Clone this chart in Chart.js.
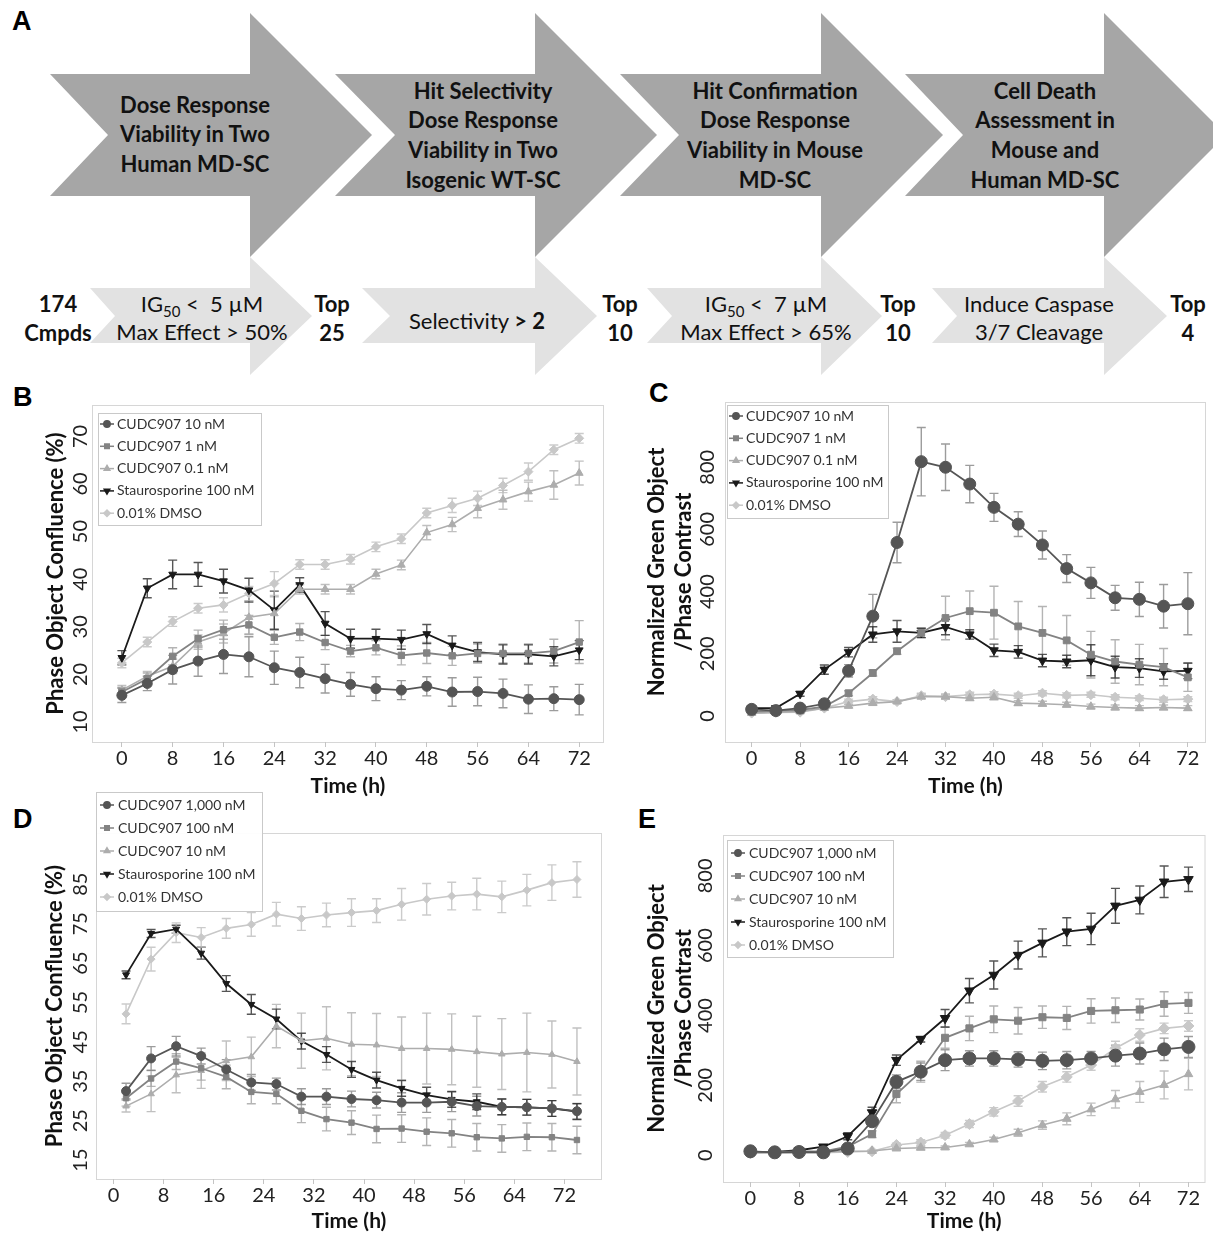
<!DOCTYPE html>
<html>
<head>
<meta charset="utf-8">
<script src="https://cdn.jsdelivr.net/npm/chart.js@4.4.0/dist/chart.umd.min.js"></script>
<style>
  body { margin: 0; background: #fff; }
  #page { position: relative; width: 1213px; height: 1238px; overflow: hidden; background: #fff; }
  .tag { position: absolute; font: bold 27px "Liberation Sans", Arial, sans-serif; line-height: 1; color: #000; }
  canvas { position: absolute; }
  svg text { font-family: Lato, sans-serif; fill: #111; white-space: pre; }
</style>
</head>
<body>
<div id="page">
  <svg width="1213" height="380" style="position:absolute;left:0;top:0">
    <g fill="#a6a6a6">
      <polygon points="50,74 250,74 250,13 372,135 250,257 250,196 50,196 108,135"/>
      <polygon points="335,74 535,74 535,13 657,135 535,257 535,196 335,196 395,135"/>
      <polygon points="620,74 821,74 821,13 943,135 821,257 821,196 620,196 679,135"/>
      <polygon points="905,74 1104,74 1104,13 1226,135 1104,257 1104,196 905,196 963,135"/>
    </g>
    <g fill="#e2e2e2">
      <polygon points="90,288 250,288 250,257 312,316 250,375 250,343 90,343 115,316"/>
      <polygon points="362,288 535,288 535,257 597,316 535,375 535,343 362,343 390,316"/>
      <polygon points="647,288 821,288 821,257 882,316 821,375 821,343 647,343 672,316"/>
      <polygon points="932,288 1104,288 1104,257 1167,316 1104,375 1104,343 932,343 957,316"/>
    </g>
    <g font-weight="bold" font-size="22" text-anchor="middle">
      <text x="195" y="113">Dose Response</text>
      <text x="195" y="142">Viability in Two</text>
      <text x="195" y="172">Human MD-SC</text>
      <text x="483" y="99">Hit Selectivity</text>
      <text x="483" y="128">Dose Response</text>
      <text x="483" y="158">Viability in Two</text>
      <text x="483" y="188">Isogenic WT-SC</text>
      <text x="775" y="99">Hit Confirmation</text>
      <text x="775" y="128">Dose Response</text>
      <text x="775" y="158">Viability in Mouse</text>
      <text x="775" y="188">MD-SC</text>
      <text x="1045" y="99">Cell Death</text>
      <text x="1045" y="128">Assessment in</text>
      <text x="1045" y="158">Mouse and</text>
      <text x="1045" y="188">Human MD-SC</text>
    </g>
    <g font-size="22" text-anchor="middle">
      <text x="202" y="312">IG<tspan font-size="15" dy="5">50</tspan><tspan dy="-5"> &lt;  5 µM</tspan></text>
      <text x="202" y="340">Max Effect &gt; 50%</text>
      <text x="477" y="329">Selectivity <tspan font-weight="bold">&gt; 2</tspan></text>
      <text x="766" y="312">IG<tspan font-size="15" dy="5">50</tspan><tspan dy="-5"> &lt;  7 µM</tspan></text>
      <text x="766" y="340">Max Effect &gt; 65%</text>
      <text x="1039" y="312">Induce Caspase</text>
      <text x="1039" y="340">3/7 Cleavage</text>
    </g>
    <g font-size="22" font-weight="bold" text-anchor="middle">
      <text x="58" y="312">174</text>
      <text x="58" y="341">Cmpds</text>
      <text x="332" y="312">Top</text>
      <text x="332" y="341">25</text>
      <text x="620" y="312">Top</text>
      <text x="620" y="341">10</text>
      <text x="898" y="312">Top</text>
      <text x="898" y="341">10</text>
      <text x="1188" y="312">Top</text>
      <text x="1188" y="341">4</text>
    </g>
  </svg>

  <div class="tag" style="left:12px;top:8px">A</div>
  <div class="tag" style="left:13px;top:384px">B</div>
  <div class="tag" style="left:649px;top:380px">C</div>
  <div class="tag" style="left:13px;top:806px">D</div>
  <div class="tag" style="left:638px;top:806px">E</div>

  <canvas id="chartB" width="610" height="415" style="left:0;top:390px"></canvas>
  <canvas id="chartC" width="603" height="415" style="left:610px;top:390px"></canvas>
  <canvas id="chartD" width="610" height="448" style="left:0;top:790px"></canvas>
  <canvas id="chartE" width="603" height="438" style="left:610px;top:800px"></canvas>
</div>

<script>
// time points (h)
const hoursBC = [0, 4, 8, 12, 16, 20, 24, 28, 32, 36, 40, 44, 48, 52, 56, 60, 64, 68, 72];
const hoursD = [2, 6, 10, 14, 18, 22, 26, 30, 34, 38, 42, 46, 50, 54, 58, 62, 66, 70, 74];
const hoursE = [0, 4, 8, 12, 16, 20, 24, 28, 32, 36, 40, 44, 48, 52, 56, 60, 64, 68, 72];
const xTickValues = [0, 8, 16, 24, 32, 40, 48, 56, 64, 72];

const labelsBC = ["CUDC907 10 nM", "CUDC907 1 nM", "CUDC907 0.1 nM", "Staurosporine 100 nM", "0.01% DMSO"];
const labelsDE = ["CUDC907 1,000 nM", "CUDC907 100 nM", "CUDC907 10 nM", "Staurosporine 100 nM", "0.01% DMSO"];

// B - human MD-SC confluence
const bYTicks = [10, 20, 30, 40, 50, 60, 70];
const b10 = [15.6, 18.1, 21.0, 22.8, 24.2, 23.7, 21.4, 20.4, 19.1, 17.9, 17.0, 16.7, 17.5, 16.3, 16.4, 16.0, 14.8, 14.9, 14.7];
const b1 = [16.3, 19.1, 23.8, 27.5, 29.4, 30.4, 27.8, 28.9, 26.7, 24.9, 25.6, 24.0, 24.5, 23.9, 24.4, 24.4, 24.4, 24.9, 26.8];
const b01 = [16.7, 19.6, 21.7, 26.8, 28.6, 32.0, 32.8, 37.9, 37.9, 37.9, 41.1, 43.0, 49.8, 51.5, 54.9, 56.7, 58.4, 59.8, 62.3];
const bStau = [23.5, 38.1, 41.0, 41.0, 39.6, 37.7, 33.5, 38.8, 30.7, 27.5, 27.5, 27.3, 28.5, 26.1, 24.7, 24.2, 24.2, 23.8, 25.1];
const bDmso = [22.4, 26.8, 31.1, 33.9, 34.6, 37.0, 39.1, 43.1, 43.1, 44.2, 46.8, 48.5, 53.9, 55.5, 57.0, 59.7, 62.6, 67.2, 69.6];
const b10Err = [1.5, 1.5, 3, 3.2, 4, 4.2, 3.5, 3.2, 3, 2.5, 2.5, 2, 2, 3, 3, 3, 3, 2.5, 3.2];
const b1Err = [1, 1.2, 1.8, 1.8, 2, 2, 1.5, 1.8, 1.5, 1.2, 1.5, 2, 2.2, 2, 2, 2, 2, 2.5, 4.5];
const b01Err = [1, 1, 1.5, 1.5, 2, 3.5, 3.5, 1, 1, 1, 1, 1, 1.5, 1.5, 2, 2, 2, 3, 2.5];
const bStauErr = [1.5, 2, 3, 2.5, 2.5, 2.5, 4, 1.5, 2.5, 2, 2, 2, 2, 2, 2, 2, 2, 2, 2];
const bDmsoErr = [1, 1, 1, 1, 1.5, 1.5, 2.5, 1, 1, 1, 1, 1, 1, 1.5, 1.5, 1.5, 1.8, 1, 1];

// C - human MD-SC caspase
const cYTicks = [0, 200, 400, 600, 800];
const c10 = [21, 17, 25, 39, 145, 321, 558, 818, 800, 746, 671, 617, 550, 474, 428, 380, 375, 353, 361];
const c1 = [14, 16, 19, 30, 73, 138, 208, 267, 315, 337, 332, 288, 267, 243, 197, 175, 165, 157, 124];
const c01 = [9, 11, 14, 25, 32, 41, 46, 62, 62, 57, 60, 41, 39, 36, 30, 27, 25, 27, 25];
const cStau = [25, 25, 71, 149, 205, 262, 272, 267, 286, 262, 211, 206, 178, 175, 179, 157, 154, 143, 145];
const cDmso = [9, 11, 12, 25, 46, 54, 46, 65, 62, 68, 70, 65, 73, 66, 68, 60, 57, 52, 54];
const c10Err = [5, 5, 5, 8, 20, 70, 65, 110, 75, 60, 45, 40, 45, 45, 50, 40, 55, 70, 100];
const c1Err = [3, 3, 3, 5, 8, 10, 10, 15, 70, 65, 85, 80, 85, 80, 75, 70, 65, 60, 45];
const c01Err = [3, 3, 3, 4, 5, 5, 5, 8, 8, 8, 8, 8, 8, 8, 8, 8, 8, 8, 8];
const cStauErr = [5, 5, 8, 15, 15, 25, 35, 15, 25, 15, 20, 20, 20, 20, 50, 35, 30, 25, 25];
const cDmsoErr = [3, 3, 3, 5, 8, 8, 5, 8, 8, 8, 8, 8, 8, 8, 8, 8, 8, 8, 8];

// D - mouse MD-SC confluence
const dYTicks = [15, 25, 35, 45, 55, 65, 75, 85];
const d1000 = [32.5, 40.8, 43.9, 41.4, 38.0, 34.7, 34.3, 31.1, 31.1, 30.5, 30.2, 29.6, 29.6, 29.8, 28.7, 28.5, 28.4, 28.1, 27.4];
const d100 = [30.7, 35.7, 40.0, 38.3, 36.1, 32.3, 31.8, 27.5, 25.4, 24.5, 22.9, 23.0, 22.2, 21.8, 20.8, 20.5, 20.9, 20.8, 20.1];
const d10 = [28.7, 31.8, 36.6, 37.7, 40.2, 41.2, 49.0, 45.3, 45.9, 44.4, 44.2, 43.3, 43.3, 43.1, 42.5, 41.9, 42.3, 41.8, 40.0];
const dStau = [62.0, 72.5, 73.6, 67.5, 59.8, 54.5, 50.8, 45.2, 41.8, 38.0, 35.3, 33.2, 31.5, 30.4, 29.8, 28.5, 28.4, 28.1, 27.3];
const dDmso = [52.1, 66.0, 72.7, 71.5, 73.8, 74.8, 77.4, 76.3, 77.2, 77.8, 78.3, 79.9, 81.2, 82.0, 82.5, 81.8, 83.5, 85.4, 86.2];
const d1000Err = [2, 3, 2.5, 2, 2.5, 2, 1.5, 2, 2, 2, 2, 2.5, 2.5, 2.5, 2.5, 2, 2, 2, 2];
const d100Err = [2, 2, 2, 3, 3, 3, 2.5, 3, 3, 3, 3.5, 3.5, 3.5, 3.5, 3.5, 3.5, 3.5, 3.5, 3.5];
const d10Err = [1.5, 4.5, 4.5, 4.5, 5, 5, 5.5, 7, 8, 8, 8, 8, 9, 9, 9, 9, 10, 8.5, 8.5];
const dStauErr = [1, 1, 1, 1.5, 2, 2.5, 2.5, 2, 2, 2, 2, 2, 2, 2, 2, 2, 2, 2, 2];
const dDmsoErr = [2.5, 3, 2.5, 2.5, 2.5, 3, 3, 3, 3, 3.5, 3, 4, 4, 3.5, 4, 4, 4, 4.5, 4.5];

// E - mouse MD-SC caspase
const eYTicks = [0, 200, 400, 600, 800];
const e1000 = [11, 8, 9, 8, 19, 97, 210, 239, 272, 277, 277, 274, 270, 272, 277, 285, 291, 303, 310];
const e100 = [9, 9, 11, 11, 24, 60, 175, 239, 336, 363, 389, 385, 395, 393, 413, 415, 417, 433, 436];
const e10 = [7, 7, 9, 9, 11, 12, 19, 21, 22, 31, 45, 64, 86, 104, 131, 160, 181, 201, 232];
const eStau = [9, 9, 14, 24, 54, 122, 272, 332, 392, 471, 516, 573, 608, 640, 648, 714, 731, 783, 790];
const eDmso = [5, 7, 7, 7, 9, 11, 29, 36, 57, 89, 124, 155, 196, 224, 258, 306, 344, 363, 370];
const e1000Err = [3, 3, 3, 3, 5, 12, 20, 25, 30, 22, 22, 22, 25, 25, 20, 30, 30, 32, 30];
const e100Err = [3, 3, 3, 3, 5, 10, 25, 30, 30, 35, 38, 38, 32, 33, 35, 35, 30, 35, 30];
const e10Err = [2, 2, 2, 2, 2, 2, 3, 4, 4, 5, 6, 10, 12, 17, 18, 25, 30, 40, 45];
const eStauErr = [3, 3, 5, 5, 10, 15, 15, 8, 25, 35, 40, 40, 40, 40, 45, 50, 40, 45, 35];
const eDmsoErr = [2, 2, 2, 2, 3, 3, 5, 8, 8, 10, 12, 15, 15, 15, 15, 20, 18, 15, 15];

// one look per series slot (high dose, mid dose, low dose, staurosporine, DMSO)
const LOOK = [
  { color: "#555555", bar: "rgba(90,90,90,0.6)", shape: "circle", rot: 0, width: 1.8 },
  { color: "#838383", bar: "rgba(130,130,130,0.6)", shape: "rect", rot: 0, width: 1.8 },
  { color: "#adadad", bar: "rgba(165,165,165,0.7)", shape: "triangle", rot: 0, width: 1.6 },
  { color: "#1a1a1a", bar: "rgba(30,30,30,0.75)", shape: "triangle", rot: 180, width: 1.8 },
  { color: "#c8c8c8", bar: "rgba(185,185,185,0.75)", shape: "rectRot", rot: 0, width: 1.6 }
];

const errorBars = {
  id: "errorBars",
  beforeDatasetsDraw(chart) {
    const ctx = chart.ctx;
    const yScale = chart.scales.y;
    ctx.save();
    chart.data.datasets.forEach((ds, i) => {
      const meta = chart.getDatasetMeta(i);
      ctx.strokeStyle = ds.barColor;
      ctx.lineWidth = 1.4;
      meta.data.forEach((pt, k) => {
        const v = ds.data[k].y, e = ds.errors[k];
        const top = yScale.getPixelForValue(v + e);
        const bot = yScale.getPixelForValue(v - e);
        ctx.beginPath();
        ctx.moveTo(pt.x, top); ctx.lineTo(pt.x, bot);
        ctx.moveTo(pt.x - 4.5, top); ctx.lineTo(pt.x + 4.5, top);
        ctx.moveTo(pt.x - 4.5, bot); ctx.lineTo(pt.x + 4.5, bot);
        ctx.stroke();
      });
    });
    ctx.restore();
  }
};

const frame = {
  id: "frame",
  beforeDraw(chart) {
    const { ctx, chartArea: a } = chart;
    ctx.save();
    ctx.strokeStyle = "#d6d6d6";
    ctx.lineWidth = 1;
    ctx.strokeRect(a.left + 0.5, a.top + 0.5, a.right - a.left - 1, a.bottom - a.top);
    ctx.restore();
  }
};

const boxLegend = {
  id: "boxLegend",
  afterDraw(chart, args, o) {
    const ctx = chart.ctx;
    ctx.save();
    ctx.fillStyle = "rgba(255,255,255,0.95)";
    ctx.fillRect(o.x, o.y, o.w, o.h);
    ctx.strokeStyle = "#c9c9c9";
    ctx.lineWidth = 1;
    ctx.strokeRect(o.x + 0.5, o.y + 0.5, o.w, o.h);
    ctx.font = "14px Lato";
    ctx.textBaseline = "middle";
    chart.data.datasets.forEach((ds, i) => {
      const cy = o.y + o.first + i * o.rowH;
      const mx = o.x + o.markX;
      ctx.strokeStyle = ds.borderColor;
      ctx.lineWidth = 1.5;
      ctx.beginPath();
      ctx.moveTo(mx - 7, cy); ctx.lineTo(mx + 7, cy);
      ctx.stroke();
      ctx.fillStyle = ds.borderColor;
      Chart.helpers.drawPoint(ctx, { pointStyle: ds.pointStyle, rotation: ds.pointRotation, radius: 3.2, borderWidth: 1 }, mx, cy);
      ctx.fillStyle = "#333";
      ctx.fillText(ds.label, o.x + o.textX, cy);
    });
    ctx.restore();
  }
};

function makeChart(id, spec) {
  const datasets = spec.series.map((values, i) => ({
    label: spec.labels[i],
    data: spec.hours.map((h, k) => ({ x: h, y: values[k] })),
    errors: spec.errors[i],
    barColor: LOOK[i].bar,
    borderColor: LOOK[i].color,
    backgroundColor: LOOK[i].color,
    pointBackgroundColor: LOOK[i].color,
    pointBorderColor: LOOK[i].color,
    pointStyle: LOOK[i].shape,
    pointRotation: LOOK[i].rot,
    pointRadius: spec.sizes[i],
    pointBorderWidth: 1,
    borderWidth: LOOK[i].width,
    tension: 0,
    fill: false
  }));

  return new Chart(document.getElementById(id), {
    type: "line",
    data: { datasets },
    options: {
      responsive: false,
      animation: false,
      devicePixelRatio: 1,
      layout: { padding: spec.pad },
      plugins: {
        legend: { display: false },
        tooltip: { enabled: false },
        boxLegend: spec.legend
      },
      scales: {
        x: {
          type: "linear",
          min: spec.xMin,
          max: spec.xMax,
          afterBuildTicks: s => { s.ticks = xTickValues.map(v => ({ value: v })); },
          afterFit: s => { s.height = spec.xHeight; },
          grid: { display: true, drawOnChartArea: false, drawTicks: true, tickLength: 5, color: "#c4c4c4" },
          border: { display: false },
          ticks: { font: { family: "Lato", size: 20 }, color: "#222", padding: 0, maxRotation: 0 },
          title: { display: true, text: "Time (h)", font: { family: "Lato", size: 21, weight: "bold" }, color: "#111", padding: 4 }
        },
        y: {
          type: "linear",
          min: spec.yMin,
          max: spec.yMax,
          afterBuildTicks: s => { s.ticks = spec.yTicks.map(v => ({ value: v })); },
          afterFit: s => { s.width = spec.yWidth; },
          grid: { display: false, drawTicks: false },
          border: { display: false },
          ticks: { font: { family: "Lato", size: 20 }, color: "#222", padding: spec.yTickPad, minRotation: 90, maxRotation: 90, crossAlign: "center" },
          title: { display: true, text: spec.yTitle, font: { family: "Lato", size: 22, weight: "bold", lineHeight: 1.2 }, color: "#111", padding: 4 }
        }
      }
    },
    plugins: [frame, errorBars, boxLegend]
  });
}

function drawAll() {
  makeChart("chartB", {
    hours: hoursBC, labels: labelsBC,
    series: [b10, b1, b01, bStau, bDmso],
    errors: [b10Err, b1Err, b01Err, bStauErr, bDmsoErr],
    sizes: [5, 4.5, 4.5, 4.5, 4.5],
    pad: { left: 39, top: 15, right: 4, bottom: 2 }, yWidth: 53, xHeight: 61, yTickPad: 0,
    xMin: -4.7, xMax: 75.9, yMin: 5.8, yMax: 76.6, yTicks: bYTicks,
    yTitle: "Phase Object Confluence (%)",
    legend: { x: 98, y: 23, w: 163, h: 112, first: 11, rowH: 22.3, markX: 9, textX: 19 }
  });
  makeChart("chartC", {
    hours: hoursBC, labels: labelsBC,
    series: [c10, c1, c01, cStau, cDmso],
    errors: [c10Err, c1Err, c01Err, cStauErr, cDmsoErr],
    sizes: [6, 4.8, 4.8, 5, 5],
    pad: { left: 30, top: 12, right: 0, bottom: 2 }, yWidth: 85, xHeight: 61, yTickPad: 0,
    xMin: -4.4, xMax: 75.0, yMin: -84, yMax: 1010, yTicks: cYTicks,
    yTitle: ["Normalized Green Object", "/Phase Contrast"],
    legend: { x: 117, y: 15, w: 161, h: 113, first: 11, rowH: 22.3, markX: 9, textX: 19 }
  });
  makeChart("chartD", {
    hours: hoursD, labels: labelsDE,
    series: [d1000, d100, d10, dStau, dDmso],
    errors: [d1000Err, d100Err, d10Err, dStauErr, dDmsoErr],
    sizes: [4.5, 3.8, 3.8, 4, 4],
    pad: { left: 38, top: 43, right: 8, bottom: 0 }, yWidth: 58, xHeight: 59, yTickPad: 4,
    xMin: -2.8, xMax: 78.0, yMin: 10.2, yMax: 98.0, yTicks: dYTicks,
    yTitle: "Phase Object Confluence (%)",
    legend: { x: 96, y: 2, w: 166, h: 119, first: 13, rowH: 23, markX: 11, textX: 22 }
  });
  makeChart("chartE", {
    hours: hoursE, labels: labelsDE,
    series: [e1000, e100, e10, eStau, eDmso],
    errors: [e1000Err, e100Err, e10Err, eStauErr, eDmsoErr],
    sizes: [6.5, 5, 5, 5.5, 5.5],
    pad: { left: 30, top: 35, right: 0, bottom: 0 }, yWidth: 83, xHeight: 56, yTickPad: 0,
    xMin: -4.5, xMax: 74.8, yMin: -77, yMax: 917, yTicks: eYTicks,
    yTitle: ["Normalized Green Object", "/Phase Contrast"],
    legend: { x: 117, y: 40, w: 166, h: 117, first: 13, rowH: 23, markX: 11, textX: 22 }
  });
}

Promise.all([
  document.fonts.load("20px Lato"),
  document.fonts.load("bold 20px Lato")
]).then(drawAll, drawAll);
</script>
</body>
</html>
